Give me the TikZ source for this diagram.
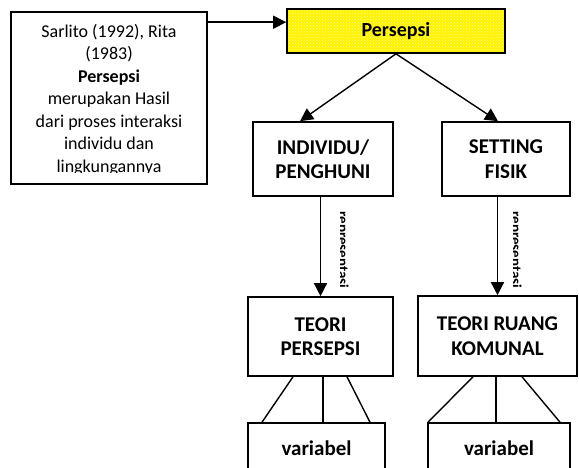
\documentclass[tikz,border=0pt]{standalone}
\usepackage{fontspec}
\setmainfont{Carlito}
\usetikzlibrary{arrows.meta,patterns}
\begin{document}
\begin{tikzpicture}[x=1pt,y=-1pt,
	box/.style={draw,line width=1.6pt,inner sep=0pt,align=center,font=\fontsize{21}{24.5}\selectfont\bfseries},
	arr/.style={line width=1.4pt,-{Triangle[length=13pt,width=13pt]}},
	leg/.style={line width=1.4pt},
	lbl/.style={rotate=-90,anchor=base,inner sep=0pt,font=\fontsize{15}{15}\selectfont\bfseries}]
	\useasboundingbox (0,0) rectangle (579,468);
	\node [box,minimum width=196pt,minimum height=172pt] (src) at (109,98) {};
	\begin{scope}
		\clip (11,12) rectangle (207,173);
		\node [align=center,anchor=north,inner sep=0pt,font=\fontsize{18}{22.5}\selectfont] (srctext) at (109,24) {Sarlito (1992), Rita\\(1983)\\\textbf{Persepsi}\\merupakan Hasil\\dari proses interaksi\\individu dan\\lingkungannya};
	\end{scope}
	\node [box,minimum width=218pt,minimum height=44pt,fill=yellow,font=\fontsize{20}{24}\selectfont\bfseries,
		path picture={\fill [pattern=crosshatch dots,pattern color=yellow!45!white] (path picture bounding box.south west) rectangle (path picture bounding box.north east);}] (persepsi) at (396,31) {Persepsi};
	\node [box,minimum width=140pt,minimum height=74pt] (individu) at (323,159) {INDIVIDU/\\PENGHUNI};
	\node [box,minimum width=128pt,minimum height=74pt] (setting) at (506,159) {SETTING\\FISIK};
	\node [box,minimum width=145pt,minimum height=79pt] (teoripersepsi) at (320.5,336.5) {TEORI\\PERSEPSI};
	\node [box,minimum width=159pt,minimum height=80pt] (teoriruang) at (497.5,336) {TEORI RUANG\\KOMUNAL};
	\node [box,minimum width=137pt,minimum height=50pt] (varpersepsi) at (316.5,448) {variabel};
	\node [box,minimum width=142pt,minimum height=50pt] (varruang) at (499,448) {variabel};

	\draw [arr] ([yshift=-11pt]src.north east) coordinate (srcout) -- (srcout -| persepsi.west);
	\draw [arr] (persepsi.south) -- ([xshift=-23pt]individu.north);
	\draw [arr] (persepsi.south) -- ([xshift=-8pt]setting.north);
	\draw [arr] (individu.south -| teoripersepsi.north) -- (teoripersepsi.north);
	\draw [arr] (setting.south -| teoriruang.north) -- (teoriruang.north);
	\begin{scope}
		\clip (340,200) rectangle (352,300);
		\node [lbl] (repkiri) at (338,250) {representasi};
	\end{scope}
	\begin{scope}
		\clip (513,200) rectangle (525,300);
		\node [lbl] (repkanan) at (511,250) {representasi};
	\end{scope}

	\draw [leg] ([xshift=-27.5pt]teoripersepsi.south) -- ([xshift=-54.5pt]varpersepsi.north);
	\draw [leg] ([xshift=2.5pt]teoripersepsi.south) -- ([xshift=6.5pt]varpersepsi.north);
	\draw [leg] ([xshift=26.5pt]teoripersepsi.south) -- ([xshift=53.5pt]varpersepsi.north);
	\draw [leg] ([xshift=-24.5pt]teoriruang.south) -- ([xshift=-71pt]varruang.north);
	\draw [leg] ([xshift=-1.5pt]teoriruang.south) -- ([xshift=-3pt]varruang.north);
	\draw [leg] ([xshift=24.5pt]teoriruang.south) -- ([xshift=61pt]varruang.north);
\end{tikzpicture}
\end{document}
